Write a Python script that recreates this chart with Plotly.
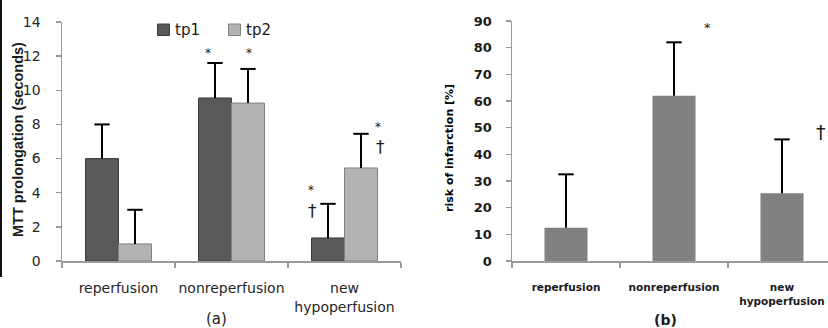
import plotly.graph_objects as go

W, H = 828, 328

# ---------------- data ----------------
categories_a = ["reperfusion", "nonreperfusion", "new<br>hypoperfusion"]
categories_b = ["reperfusion", "nonreperfusion", "new<br>hypoperfusion"]
series_names = ["tp1", "tp2"]
tp1 = [6.0, 9.55, 1.35]
tp1_err = [2.0, 2.05, 2.0]
tp2 = [1.0, 9.25, 5.45]
tp2_err = [2.0, 2.0, 2.0]
risk = [12.5, 62.0, 25.4]
risk_err = [20.0, 20.0, 20.2]
yticks_a = [0, 2, 4, 6, 8, 10, 12, 14]
yticks_b = [0, 10, 20, 30, 40, 50, 60, 70, 80, 90]


def px(x):
    return x / W


def py(y):
    return 1 - y / H


pos = list(range(len(categories_a)))
bw_a = 33 / 113
bw_b = 43 / 108

AXIS_COL = "#9a9a9a"
TP1_FILL, TP1_LINE = "#595959", "#3c3c3c"
TP2_FILL, TP2_LINE = "#b3b3b3", "#808080"
fig = go.Figure()

# ---- panel (a) bars ----
fig.add_trace(go.Bar(
    x=pos, y=tp1, name=series_names[0], offset=-bw_a, width=bw_a,
    marker=dict(color=TP1_FILL, line=dict(color=TP1_LINE, width=1)),
    error_y=dict(type="data", array=tp1_err, arrayminus=[0] * len(tp1),
                 symmetric=False, color="black", thickness=2, width=0),
    showlegend=False, xaxis="x", yaxis="y"))
fig.add_trace(go.Bar(
    x=pos, y=tp2, name=series_names[1], offset=0, width=bw_a,
    marker=dict(color=TP2_FILL, line=dict(color=TP2_LINE, width=1)),
    error_y=dict(type="data", array=tp2_err, arrayminus=[0] * len(tp2),
                 symmetric=False, color="black", thickness=2, width=0),
    showlegend=False, xaxis="x", yaxis="y"))
# caps
fig.add_trace(go.Scatter(
    x=[p - bw_a / 2 for p in pos] + [p + bw_a / 2 for p in pos],
    y=[v + e for v, e in zip(tp1, tp1_err)] + [v + e for v, e in zip(tp2, tp2_err)],
    mode="markers", showlegend=False, hoverinfo="skip",
    marker=dict(symbol="line-ew", size=11, color="black",
                line=dict(color="black", width=2)),
    xaxis="x", yaxis="y"))

# ---- panel (b) bars ----
fig.add_trace(go.Bar(
    x=pos, y=risk, name="risk", offset=-bw_b / 2, width=bw_b, showlegend=False,
    marker=dict(color="#808080", line=dict(width=0)),
    error_y=dict(type="data", array=risk_err, arrayminus=[0] * len(risk),
                 symmetric=False, color="black", thickness=2, width=0),
    xaxis="x2", yaxis="y2"))
fig.add_trace(go.Scatter(
    x=pos, y=[v + e for v, e in zip(risk, risk_err)],
    mode="markers", showlegend=False, hoverinfo="skip",
    marker=dict(symbol="line-ew", size=11, color="black",
                line=dict(color="black", width=2)),
    xaxis="x2", yaxis="y2"))

common_x = dict(showline=True, linecolor=AXIS_COL, linewidth=1.5,
                showgrid=False, zeroline=False, ticks="", ticklen=0,
                fixedrange=True, automargin=False)
common_y = dict(showline=True, linecolor=AXIS_COL, linewidth=1.5,
                showgrid=False, zeroline=False, ticks="outside", ticklen=5,
                tickcolor=AXIS_COL, tickwidth=1.5, fixedrange=True, automargin=False)

annotations = [
    # axis titles
    dict(text="<b>MTT prolongation (seconds)</b>", x=px(18), y=py(140),
         textangle=-90, font=dict(family="Liberation Sans", size=14.5, color="#1a1a1a")),
    dict(text="<b>risk of infarction [%]</b>", x=px(449), y=py(148),
         textangle=-90, font=dict(family="DejaVu Sans", size=11, color="#000000")),
    # legend texts
    dict(text=series_names[0], x=px(173), y=py(30), xanchor="left",
         font=dict(family="DejaVu Sans", size=15, color="#1a1a1a")),
    dict(text=series_names[1], x=px(244), y=py(30), xanchor="left",
         font=dict(family="DejaVu Sans", size=15, color="#1a1a1a")),
    # panel labels
    dict(text="(a)", x=px(216), y=py(319),
         font=dict(family="DejaVu Sans", size=15, color="#1a1a1a")),
    dict(text="<b>(b)</b>", x=px(665), y=py(320),
         font=dict(family="DejaVu Sans", size=14, color="#1a1a1a")),
    # significance marks (a)
    dict(text="*", x=px(208), y=py(53), font=dict(family="DejaVu Sans", size=12, color="#1a1a1a")),
    dict(text="*", x=px(249), y=py(53), font=dict(family="DejaVu Sans", size=12, color="#1a1a1a")),
    dict(text="*", x=px(311), y=py(190), font=dict(family="DejaVu Sans", size=12, color="#1a1a1a")),
    dict(text="†", x=px(312), y=py(211), font=dict(family="DejaVu Sans", size=17, color="#1a1a1a")),
    dict(text="*", x=px(378), y=py(127), font=dict(family="DejaVu Sans", size=12, color="#1a1a1a")),
    dict(text="†", x=px(380), y=py(147), font=dict(family="DejaVu Sans", size=17, color="#1a1a1a")),
    # significance marks (b)
    dict(text="*", x=px(707), y=py(28), font=dict(family="DejaVu Sans", size=13, color="#1a1a1a")),
    dict(text="†", x=px(821), y=py(132), font=dict(family="DejaVu Sans", size=19, color="#1a1a1a")),
]
for a in annotations:
    a.setdefault("xanchor", "center")
    a.update(xref="paper", yref="paper", showarrow=False, yanchor="middle")

shapes = [
    # legend swatches
    dict(type="rect", xref="paper", yref="paper", x0=px(157.5), x1=px(169.5),
         y0=py(35.5), y1=py(24), fillcolor=TP1_FILL, line=dict(color=TP1_LINE, width=1)),
    dict(type="rect", xref="paper", yref="paper", x0=px(228.5), x1=px(240.5),
         y0=py(35.5), y1=py(24), fillcolor=TP2_FILL, line=dict(color=TP2_LINE, width=1)),
    # scanned page edge
    dict(type="line", xref="paper", yref="paper", x0=px(1), x1=px(1),
         y0=py(0), y1=py(277), line=dict(color="#111111", width=2)),
]

fig.update_layout(
    template="none",
    width=W, height=H,
    margin=dict(l=0, r=0, t=0, b=0, autoexpand=False),
    paper_bgcolor="white", plot_bgcolor="white",
    barmode="overlay",
    showlegend=False,
    xaxis=dict(domain=[px(62), px(401)], range=[-0.5, 2.5], anchor="y",
               tickvals=pos, ticktext=categories_a, ticklabelstandoff=14,
               tickfont=dict(family="DejaVu Sans", size=14, color="#262626"),
               minor=dict(tickvals=[-0.5, 0.5, 1.5, 2.5], ticks="outside", ticklen=5,
                          tickcolor=AXIS_COL, tickwidth=1.5),
               **common_x),
    yaxis=dict(domain=[py(261), py(22)], range=[0, 14], anchor="x",
               tickvals=yticks_a, ticklabelstandoff=12,
               tickfont=dict(family="DejaVu Sans", size=14, color="#262626"),
               **common_y),
    xaxis2=dict(domain=[px(512), 1.0], range=[-0.5, 2.5 - 8 / 108], anchor="y2",
                tickvals=pos, ticktext=["<b>%s</b>" % c for c in categories_b],
                ticklabelstandoff=16,
                tickfont=dict(family="DejaVu Sans", size=10.5, color="#1a1a1a"),
                minor=dict(tickvals=[-0.5, 0.5, 1.5, 2.5], ticks="outside", ticklen=5,
                           tickcolor=AXIS_COL, tickwidth=1.5),
                **common_x),
    yaxis2=dict(domain=[py(261), py(21)], range=[0, 90], anchor="x2",
                tickvals=yticks_b, ticktext=["<b>%d</b>" % t for t in yticks_b],
                ticklabelstandoff=11,
                tickfont=dict(family="DejaVu Sans", size=13, color="#1a1a1a"),
                **common_y),
    annotations=annotations,
    shapes=shapes,
)

fig.write_html(
    "out.html",
    config={"displayModeBar": False, "staticPlot": True},
    post_script="document.body.style.margin='0';document.body.style.overflow='hidden';",
)
